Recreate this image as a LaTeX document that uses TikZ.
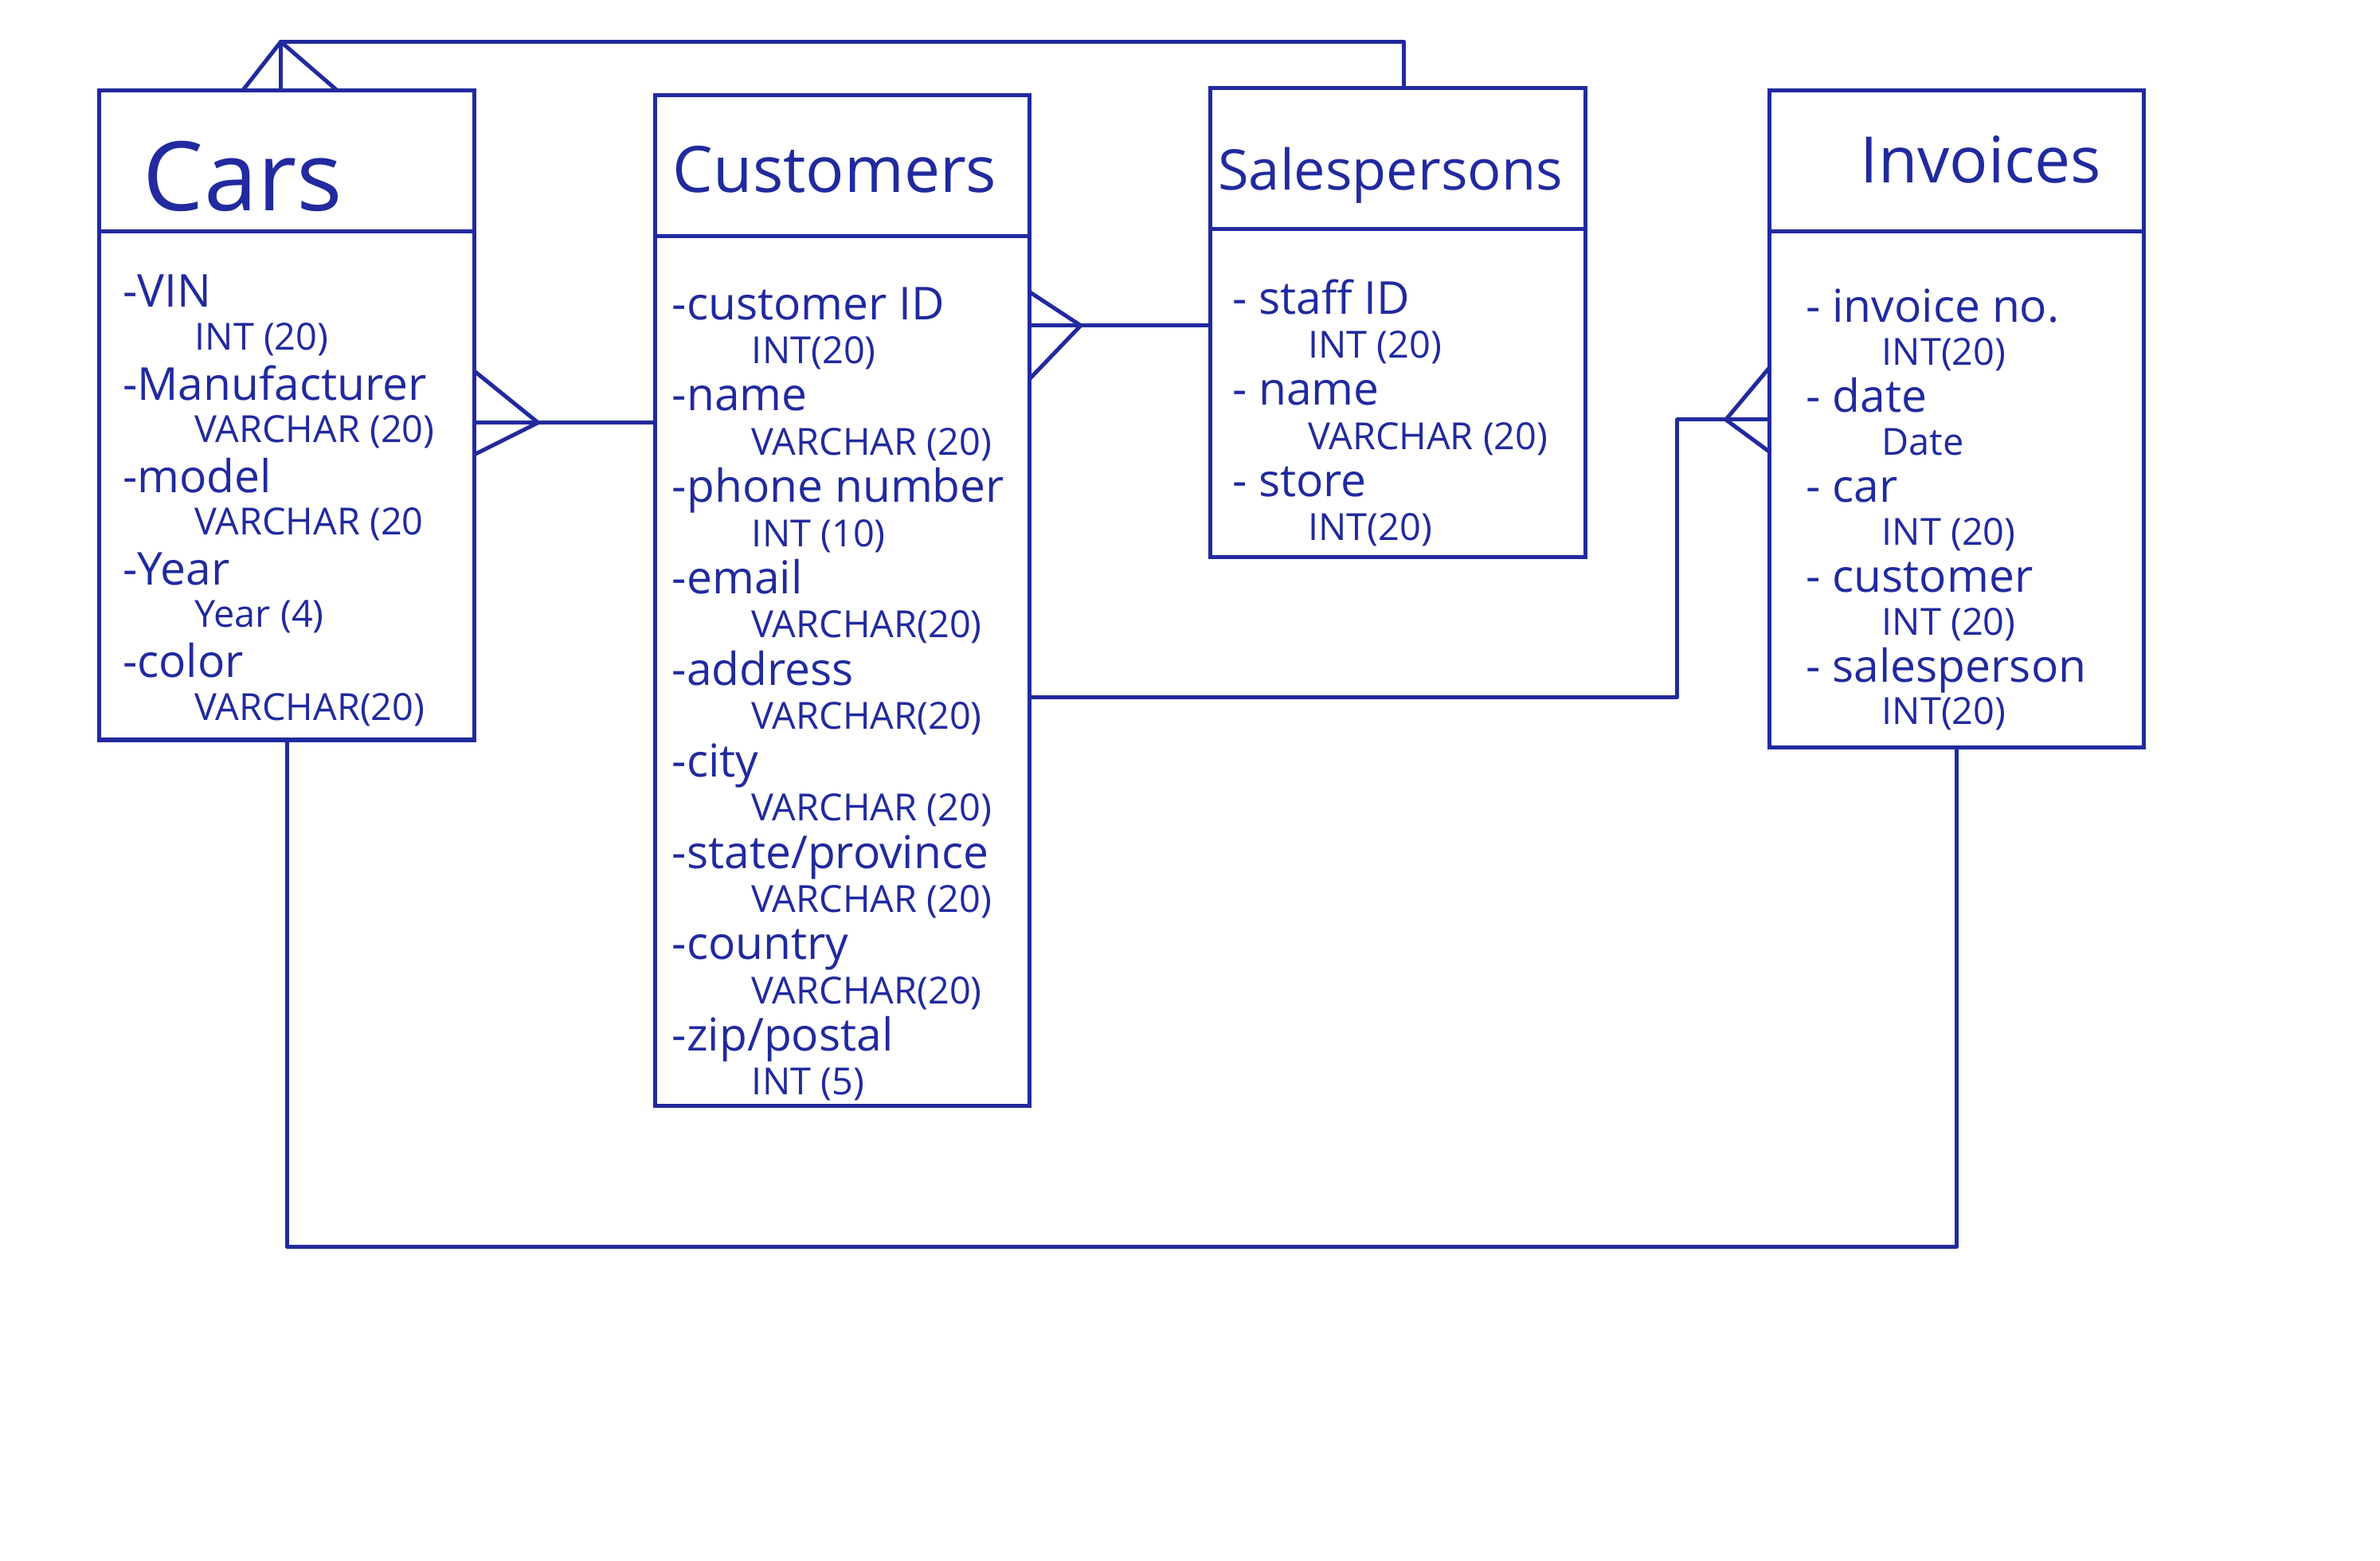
\documentclass[tikz,border=0pt]{standalone}
\usepackage{fontspec}
\setmainfont{Open Sans}
\usetikzlibrary{positioning,calc}

\begin{document}
\begin{tikzpicture}[x=1cm,y=1cm,
  head/.style={draw=ink,line width=1.5pt,minimum width=4.94cm,minimum height=1.86cm,inner sep=0pt,outer sep=0pt},
  title/.style={inner sep=0pt,text=ink,font=\fontsize{24}{28}\selectfont},
  body/.style={draw=ink,line width=1.5pt,minimum width=4.94cm,inner sep=0pt,outer sep=0pt},
  fname/.style={anchor=base west,inner sep=0pt,text=ink,font=\fontsize{17}{19}\selectfont},
  ftype/.style={anchor=base west,inner sep=0pt,text=ink,font=\fontsize{14}{16}\selectfont},
  link/.style={draw=ink,line width=1.5pt,line join=round}]
\definecolor{ink}{RGB}{33,42,158}
\useasboundingbox (0,0) rectangle (31.36,20.57);
% tables
\node[head] (carsh) at (3.78,18.45) {};
\node[body,minimum height=6.70cm,below=0pt of carsh] (carsb) {};
\node[head] (custh) at (11.10,18.39) {};
\node[body,minimum height=11.46cm,below=0pt of custh] (custb) {};
\node[head] (spersh) at (18.42,18.48) {};
\node[body,minimum height=4.32cm,below=0pt of spersh] (spersb) {};
\node[head] (invh) at (25.78,18.45) {};
\node[body,minimum height=6.80cm,below=0pt of invh] (invb) {};
% titles
\node[title,font=\fontsize{36}{40}\selectfont] (carst) at ($(carsh)+(-0.58,-0.20)$) {Cars};
\node[title] (custt) at ($(custh)+(-0.10,-0.05)$) {Customers};
\node[title,font=\fontsize{21}{24}\selectfont] (sperst) at ($(spersh)+(-0.10,-0.22)$) {Salespersons};
\node[title] (invt) at ($(invh)+(0.32,0.02)$) {Invoices};
% attributes
\foreach \nm/\ty [count=\i] in {VIN/INT (20),Manufacturer/VARCHAR (20),model/VARCHAR (20,Year/Year (4),color/VARCHAR(20)}{
  \node[fname] (cars-n\i) at ($(carsb.north west)+(0.30,{-1.0-1.22*(\i-1)})$) {-\nm};
  \node[ftype] (cars-t\i) at ($(cars-n\i.base west)+(0.95,-0.56)$) {\ty};}
\foreach \nm/\ty [count=\i] in {customer ID/INT(20),name/VARCHAR (20),phone number/INT (10),email/VARCHAR(20),address/VARCHAR(20),city/VARCHAR (20),{state/province}/VARCHAR (20),country/VARCHAR(20),{zip/postal}/INT (5)}{
  \node[fname] (cust-n\i) at ($(custb.north west)+(0.22,{-1.1-1.205*(\i-1)})$) {-\nm};
  \node[ftype] (cust-t\i) at ($(cust-n\i.base west)+(1.05,-0.58)$) {\ty};}
\foreach \nm/\ty [count=\i] in {staff ID/INT (20),name/VARCHAR (20),store/INT(20)}{
  \node[fname] (spers-n\i) at ($(spersb.north west)+(0.28,{-1.12-1.2*(\i-1)})$) {- \nm};
  \node[ftype] (spers-t\i) at ($(spers-n\i.base west)+(1.0,-0.58)$) {\ty};}
\foreach \nm/\ty [count=\i] in {invoice no./INT(20),date/Date,car/INT (20),customer/INT (20),salesperson/INT(20)}{
  \node[fname] (inv-n\i) at ($(invb.north west)+(0.48,{-1.2-1.185*(\i-1)})$) {- \nm};
  \node[ftype] (inv-t\i) at ($(inv-n\i.base west)+(1.0,-0.56)$) {\ty};}
% Cars -- Salespersons
\coordinate (f1) at ($(carsh.north)+(-0.08,0.64)$);
\draw[link] ($(carsh.north)+(-0.58,0)$) -- (f1) -- ($(carsh.north)+(0.66,0)$);
\draw[link] ($(carsh.north)+(-0.08,0)$) -- (f1) -| ($(spersh.north)+(0.08,0)$);
% Cars -- Customers
\coordinate (f2) at ($(carsb.north east)+(0.84,-2.52)$);
\draw[link] ($(carsb.north east)+(0,-1.84)$) -- (f2) -- ($(carsb.north east)+(0,-2.94)$);
\draw[link] ($(carsb.north east)+(0,-2.52)$) -- (f2) -- (custb.west |- f2);
% Customers -- Salespersons
\coordinate (f3) at ($(custb.north east)+(0.67,-1.18)$);
\draw[link] ($(custb.north east)+(0,-0.74)$) -- (f3) -- ($(custb.north east)+(0,-1.88)$);
\draw[link] ($(custb.north east)+(0,-1.18)$) -- (f3) -- (spersb.west |- f3);
% Customers -- Invoices
\coordinate (f4) at ($(invb.north west)+(-0.57,-2.48)$);
\draw[link] ($(invb.north west)+(0,-1.80)$) -- (f4) -- ($(invb.north west)+(0,-2.90)$);
\draw[link] ($(invb.north west)+(0,-2.48)$) -- (f4) -- ++(-0.64,0) |- ($(custb.north east)+(0,-6.08)$);
% Cars -- Invoices
\draw[link] (carsb.south) -- ++(0,-6.68) -| (invb.south);
\end{tikzpicture}
\end{document}
